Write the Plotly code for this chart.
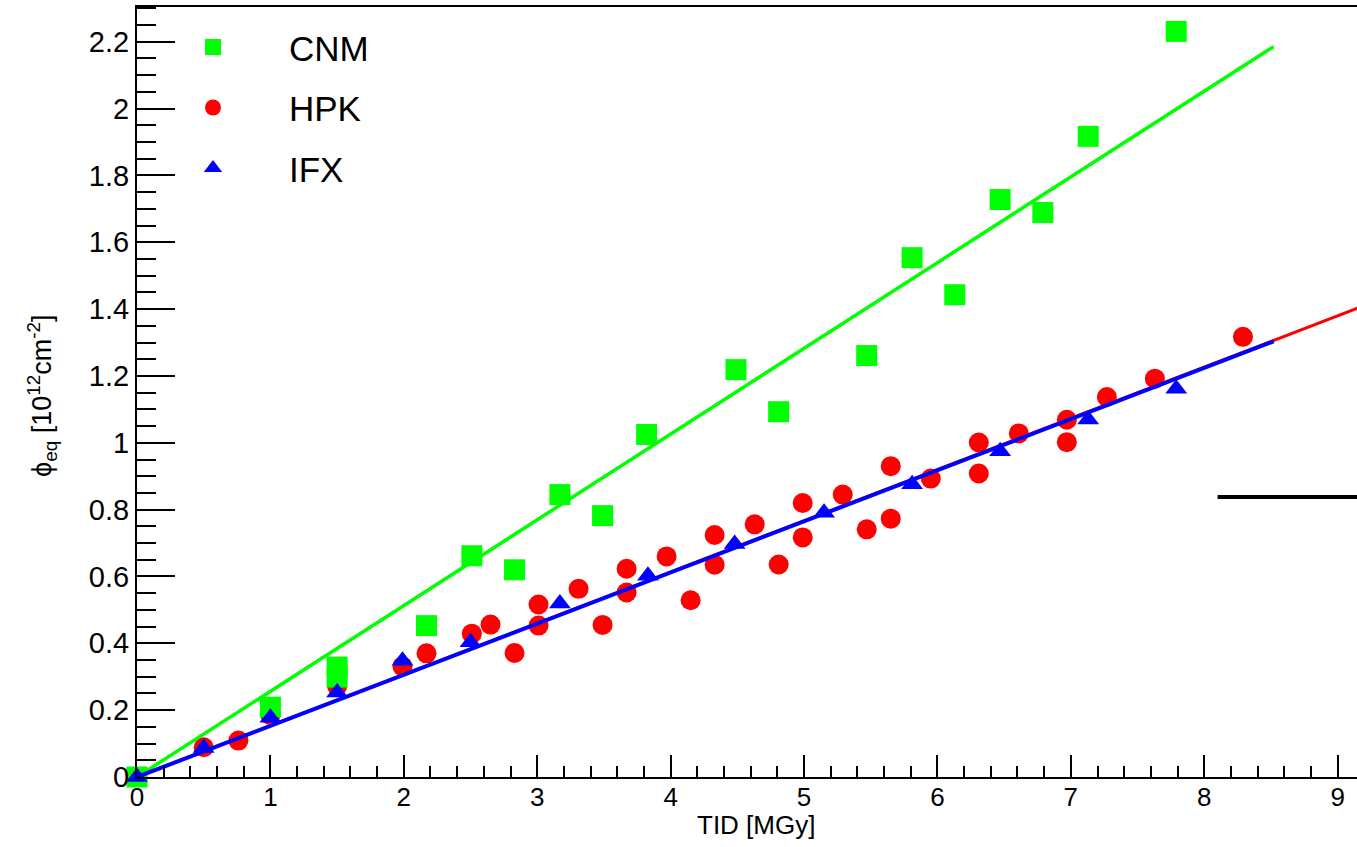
import plotly.graph_objects as go

# ---- measured data -------------------------------------------------------
# CNM sensors
cnm_tid = [0.0, 1.00, 1.50, 1.50, 2.17, 2.51, 2.83, 3.17, 3.49, 3.82, 4.49,
           4.81, 5.47, 5.81, 6.13, 6.47, 6.79, 7.13, 7.79]
cnm_phi = [0.0, 0.209, 0.329, 0.299, 0.453, 0.662, 0.620, 0.845, 0.782, 1.025,
           1.219, 1.093, 1.261, 1.554, 1.443, 1.728, 1.689, 1.917, 2.231]

# HPK sensors
hpk_tid = [0.0, 0.50, 0.76, 1.00, 1.50, 1.99, 2.17, 2.51, 2.65, 2.83, 3.01,
           3.01, 3.31, 3.49, 3.67, 3.67, 3.97, 4.15, 4.33, 4.33, 4.63, 4.81,
           4.99, 4.99, 5.29, 5.47, 5.65, 5.65, 5.95, 6.31, 6.31, 6.61, 6.97,
           6.97, 7.27, 7.63, 8.29]
hpk_phi = [0.0, 0.089, 0.109, 0.185, 0.272, 0.331, 0.370, 0.429, 0.456, 0.371,
           0.516, 0.453, 0.563, 0.455, 0.623, 0.552, 0.660, 0.529, 0.724, 0.635,
           0.756, 0.636, 0.820, 0.717, 0.845, 0.741, 0.930, 0.773, 0.893, 1.001,
           0.908, 1.028, 1.069, 1.002, 1.137, 1.192, 1.317]

# IFX sensors
ifx_tid = [0.0, 0.50, 1.00, 1.50, 1.99, 2.50, 3.17, 3.83, 4.48, 5.15, 5.81,
           6.47, 7.13, 7.79]
ifx_phi = [0.0, 0.087, 0.177, 0.253, 0.348, 0.403, 0.519, 0.602, 0.697, 0.791,
           0.876, 0.975, 1.070, 1.162]

# linear fits phi = slope * TID over [0, fit_end]
cnm_slope, cnm_fit_end = 0.2565, 8.52
hpk_slope, hpk_fit_end = 0.1533, 10.0
ifx_slope, ifx_fit_end = 0.1530, 8.52

# horizontal marker line
ref_line_phi = 0.838
ref_line_tid = [8.10, 9.5]

x_range = [0, 9.145]
y_range = [0, 2.304]

FONT = "Liberation Sans, Arial, Helvetica, sans-serif"
GREEN = "#00ff00"
RED = "#ff0000"
BLUE = "#0000ff"

fig = go.Figure()


def add_fit(slope, end, color, width):
    xs = [0.0, end]
    fig.add_trace(go.Scatter(x=xs, y=[slope * v for v in xs], mode="lines",
                             line=dict(color=color, width=width),
                             showlegend=False, hoverinfo="skip"))


# HPK markers + fit
fig.add_trace(go.Scatter(x=hpk_tid, y=hpk_phi, mode="markers", name="HPK",
                         legendgroup="hpk", legendrank=2, cliponaxis=False,
                         marker=dict(symbol="circle", size=20, color=RED,
                                     line=dict(width=0))))
add_fit(hpk_slope, hpk_fit_end, RED, 3)

# CNM markers + fit
fig.add_trace(go.Scatter(x=cnm_tid, y=cnm_phi, mode="markers", name="CNM",
                         legendgroup="cnm", legendrank=1, cliponaxis=False,
                         marker=dict(symbol="square", size=21, color=GREEN,
                                     line=dict(width=0))))
add_fit(cnm_slope, cnm_fit_end, GREEN, 3.5)

# IFX markers + fit
fig.add_trace(go.Scatter(x=ifx_tid, y=ifx_phi, mode="markers", name="IFX",
                         legendgroup="ifx", legendrank=3, cliponaxis=False,
                         marker=dict(symbol="triangle-up", size=19, color=BLUE,
                                     line=dict(width=0))))
add_fit(ifx_slope, ifx_fit_end, BLUE, 4)

# short black horizontal line
fig.add_shape(type="line", xref="x", yref="y",
              x0=ref_line_tid[0], x1=ref_line_tid[1],
              y0=ref_line_phi, y1=ref_line_phi,
              line=dict(color="black", width=4))

fig.update_layout(
    width=1357, height=847,
    margin=dict(l=137, r=0, t=7, b=70),
    paper_bgcolor="white", plot_bgcolor="white",
    font=dict(family=FONT, color="black"),
    showlegend=True,
    legend=dict(x=0.0, y=0.986, xanchor="left", yanchor="top",
                bgcolor="rgba(0,0,0,0)", borderwidth=0,
                font=dict(size=35, family=FONT),
                itemwidth=142, tracegroupgap=12, traceorder="grouped"),
    xaxis=dict(range=x_range, showgrid=False, zeroline=False,
               showline=True, linewidth=2, linecolor="black", mirror=True,
               ticks="inside", ticklen=22, tickwidth=1.5, tickcolor="black",
               tick0=0, dtick=1, tickfont=dict(size=26, family=FONT),
               ticklabelstandoff=-4,
               minor=dict(ticks="inside", ticklen=11, tickwidth=1.5,
                          tickcolor="black", dtick=0.2, tick0=0)),
    yaxis=dict(range=y_range, showgrid=False, zeroline=False,
               showline=True, linewidth=2, linecolor="black",
               ticks="inside", ticklen=38, tickwidth=2, tickcolor="black",
               tick0=0, dtick=0.2, tickfont=dict(size=29, family=FONT),
               minor=dict(ticks="inside", ticklen=19, tickwidth=2,
                          tickcolor="black", dtick=0.05, tick0=0)),
    annotations=[
        dict(text="TID [MGy]", xref="paper", yref="paper",
             x=(756 - 137) / 1220, y=-(825 - 777) / 770,
             xanchor="center", yanchor="middle",
             showarrow=False, font=dict(size=26, family=FONT)),
        dict(text="ϕ<sub>eq</sub> [10<sup>12</sup>cm<sup>-2</sup>]",
             xref="paper", yref="paper", x=-0.078, y=0.496,
             xanchor="center", yanchor="middle", textangle=-90,
             showarrow=False, font=dict(size=27, family=FONT)),
    ],
)

fig.write_html("out.html")
